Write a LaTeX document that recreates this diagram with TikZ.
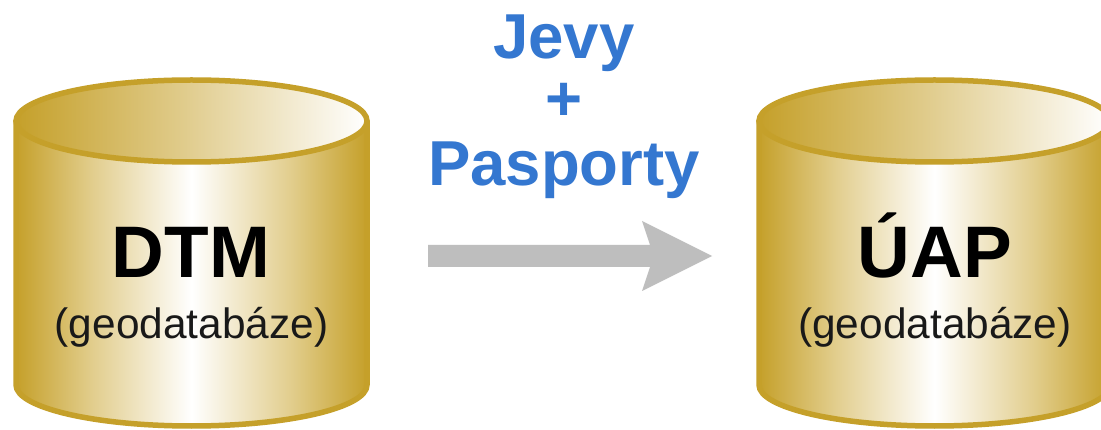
\documentclass[tikz,border=0pt]{standalone}
\usepackage{fontspec}
\setmainfont{Liberation Sans}
\definecolor{cylgold}{HTML}{C5A02A}
\definecolor{cylmid}{HTML}{E2CE8E}
\definecolor{liftmid}{HTML}{DFCA88}
\definecolor{jevyblue}{HTML}{3477D0}
\definecolor{arrowgray}{HTML}{BEBEBE}
\pgfdeclarehorizontalshading{cylbody}{100bp}{color(0bp)=(cylgold); color(25bp)=(cylgold); color(36bp)=(cylmid); color(50bp)=(white); color(64bp)=(cylmid); color(75bp)=(cylgold); color(100bp)=(cylgold)}
\pgfdeclarehorizontalshading{cyllid}{100bp}{color(0bp)=(cylgold); color(25bp)=(cylgold); color(48bp)=(liftmid); color(75bp)=(white); color(100bp)=(white)}
\tikzset{
  x=1pt,y=-1pt,
  cylside/.style={shade,shading=cylbody,draw=cylgold,line width=5.5pt,line join=round},
  cyltop/.style={shade,shading=cyllid,draw=cylgold,line width=5.5pt},
  bigname/.style={anchor=base,inner sep=0pt,font=\fontsize{73}{73}\selectfont\bfseries,text=black},
  smallname/.style={anchor=base,inner sep=0pt,font=\fontsize{42.4}{42.4}\selectfont,text=black!90},
  flowtext/.style={anchor=base,inner sep=0pt,font=\fontsize{63.5}{63.5}\selectfont\bfseries,text=jevyblue},
  blockarrow/.style={fill=arrowgray,draw=none},
}
\newcommand{\dbcylinder}[1]{%
  \path[cylside] (#1-175.5,121) -- (#1-175.5,385) arc[start angle=180,end angle=0,x radius=175.5,y radius=41] -- (#1+175.5,121) -- cycle;
  \path[cyltop] (#1,121) ellipse[x radius=175.5,y radius=41];
}
\begin{document}
\begin{tikzpicture}
\useasboundingbox (0,0) rectangle (1101,430);
\clip (0,0) rectangle (1101,430);
\fill[white] (0,0) rectangle (1101,430);
\dbcylinder{191.5}
\dbcylinder{934.5}
\node[bigname] (dtm) at (191,278) {DTM};
\node[smallname] (dtmsub) at (191.5,339) {(geodatabáze)};
\node[bigname] (uap) at (935,278) {ÚAP};
\node[smallname] (uapsub) at (935,339) {(geodatabáze)};
\node[flowtext] (jevy) at (564,59) {Jevy};
\node[flowtext] (plus) at (564,121) {+};
\node[flowtext] (pasporty) at (564,186) {Pasporty};
\coordinate (arrowstart) at (428,256);
\coordinate (arrowend) at (712,256);
\fill[blockarrow] (arrowstart) ++(0,-11) -- ++(222,0) -- ++(-8,-24) -- (arrowend) -- (642,291) -- (650,267) -- (428,267) -- cycle;
\end{tikzpicture}
\end{document}
